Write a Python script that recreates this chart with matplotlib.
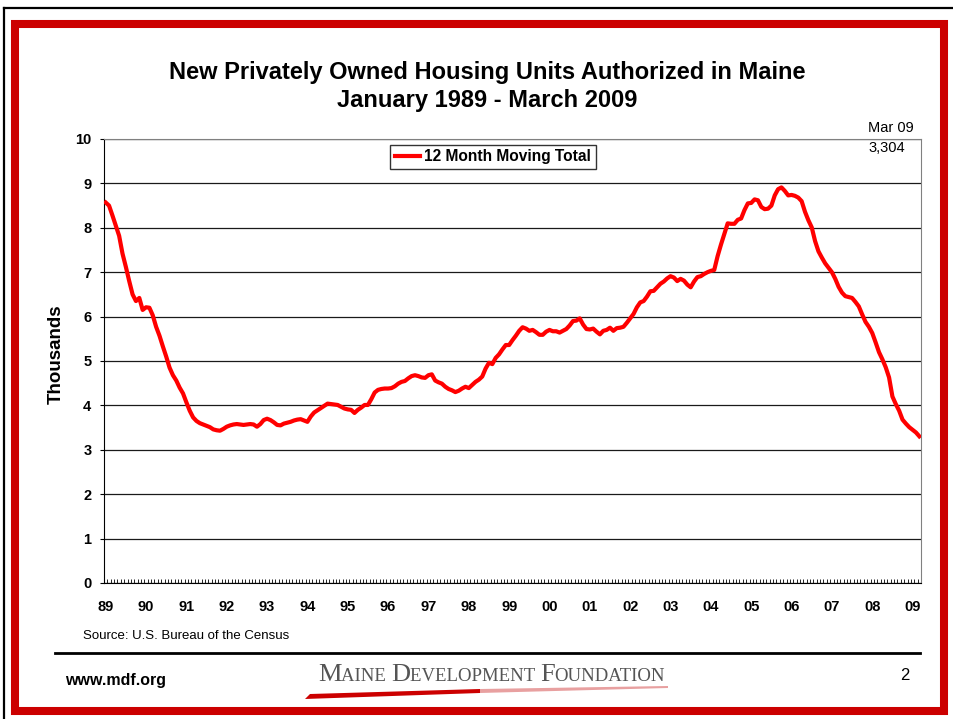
import matplotlib
matplotlib.use('Agg')
import matplotlib.pyplot as plt
from matplotlib.patches import Rectangle, Polygon
from matplotlib.lines import Line2D
import numpy as np

plt.rcParams['font.family'] = ['Liberation Sans', 'DejaVu Sans']

# 12 month moving total, thousands of units, Jan..Dec of each year
y1989 = [8.57, 8.50, 8.28, 8.05, 7.82, 7.42, 7.12, 6.80, 6.50, 6.35, 6.42, 6.15]
y1990 = [6.21, 6.20, 6.03, 5.77, 5.57, 5.33, 5.10, 4.85, 4.68, 4.56, 4.40, 4.27]
y1991 = [4.07, 3.88, 3.73, 3.65, 3.60, 3.57, 3.54, 3.51, 3.46, 3.44, 3.43, 3.47]
y1992 = [3.52, 3.55, 3.57, 3.58, 3.57, 3.56, 3.57, 3.58, 3.57, 3.52, 3.58, 3.67]
y1993 = [3.70, 3.67, 3.62, 3.56, 3.55, 3.59, 3.61, 3.63, 3.66, 3.68, 3.69, 3.66]
y1994 = [3.63, 3.75, 3.84, 3.89, 3.94, 3.99, 4.04, 4.03, 4.02, 4.01, 3.97, 3.93]
y1995 = [3.91, 3.90, 3.83, 3.90, 3.95, 4.01, 4.01, 4.14, 4.29, 4.35, 4.37, 4.38]
y1996 = [4.38, 4.39, 4.43, 4.49, 4.53, 4.55, 4.61, 4.66, 4.68, 4.66, 4.63, 4.62]
y1997 = [4.68, 4.70, 4.56, 4.52, 4.49, 4.42, 4.37, 4.34, 4.30, 4.33, 4.38, 4.42]
y1998 = [4.39, 4.46, 4.53, 4.58, 4.65, 4.83, 4.96, 4.93, 5.07, 5.15, 5.26, 5.36]
y1999 = [5.36, 5.47, 5.57, 5.68, 5.76, 5.73, 5.68, 5.70, 5.65, 5.59, 5.59, 5.66]
y2000 = [5.70, 5.67, 5.67, 5.64, 5.68, 5.72, 5.80, 5.90, 5.91, 5.96, 5.82, 5.72]
y2001 = [5.71, 5.73, 5.66, 5.60, 5.68, 5.70, 5.75, 5.68, 5.74, 5.75, 5.77, 5.86]
y2002 = [5.96, 6.06, 6.21, 6.32, 6.35, 6.45, 6.57, 6.58, 6.66, 6.74, 6.79, 6.86]
y2003 = [6.91, 6.88, 6.80, 6.85, 6.81, 6.72, 6.66, 6.79, 6.89, 6.91, 6.96, 7.00]
y2004 = [7.03, 7.05, 7.36, 7.62, 7.86, 8.10, 8.09, 8.09, 8.18, 8.21, 8.40, 8.55]
y2005 = [8.56, 8.64, 8.62, 8.47, 8.42, 8.43, 8.50, 8.73, 8.87, 8.91, 8.83, 8.73]
y2006 = [8.74, 8.72, 8.68, 8.60, 8.36, 8.17, 8.01, 7.70, 7.47, 7.33, 7.20, 7.10]
y2007 = [7.00, 6.85, 6.67, 6.54, 6.46, 6.44, 6.42, 6.33, 6.23, 6.05, 5.88, 5.77]
y2008 = [5.63, 5.42, 5.20, 5.04, 4.86, 4.63, 4.20, 4.03, 3.88, 3.68, 3.59, 3.51]
y2009 = [3.45, 3.39, 3.304]

year_labels = ['89', '90', '91', '92', '93', '94', '95', '96', '97', '98', '99',
               '00', '01', '02', '03', '04', '05', '06', '07', '08', '09']

values = (y1989 + y1990 + y1991 + y1992 + y1993 + y1994 + y1995 + y1996 + y1997
          + y1998 + y1999 + y2000 + y2001 + y2002 + y2003 + y2004 + y2005 + y2006
          + y2007 + y2008 + y2009)
months = np.arange(len(values))

W, H = 954, 719


def fx(x):
    return x / W


def fy(y):
    return 1 - y / H


fig = plt.figure(figsize=(W / 100, H / 100), dpi=100)

# page frame
fig.add_artist(Line2D([fx(4), 1], [fy(8), fy(8)], color='black', lw=1.6, transform=fig.transFigure))
fig.add_artist(Line2D([fx(4), fx(4)], [fy(8), 0], color='black', lw=1.6, transform=fig.transFigure))
fig.add_artist(Rectangle((fx(15), fy(711)), fx(944) - fx(15), fy(24) - fy(711),
                         transform=fig.transFigure, fill=False, edgecolor='#cc0000', linewidth=5.8))

ax = fig.add_axes([fx(104), fy(583), fx(921) - fx(104), fy(139) - fy(583)])
ax.plot(months, values, color='#ff0000', lw=3.0, solid_joinstyle='round',
        label='12 Month Moving Total', zorder=3)

ax.set_xlim(-0.5, len(values) - 0.5)
ax.set_ylim(0, 10)
ax.set_yticks(range(0, 11))
ax.set_yticklabels([str(i) for i in range(0, 11)], fontweight='bold', fontsize=10.5)
ax.yaxis.grid(True, color='#1a1a1a', lw=0.9)
ax.tick_params(axis='y', direction='out', length=3, width=0.8, pad=6)

ax.set_xticks(np.arange(0, len(values), 12))
ax.set_xticklabels(year_labels, fontweight='bold', fontsize=10.5)
ax.set_xticks(np.arange(-0.5, len(values), 1), minor=True)
ax.tick_params(axis='x', which='major', length=0, pad=12)
ax.tick_params(axis='x', which='minor', direction='in', length=3, width=0.6)

for s in ['top', 'right']:
    ax.spines[s].set_color('#808080')
for s in ['left', 'bottom']:
    ax.spines[s].set_color('black')

leg = ax.legend(loc='upper left', bbox_to_anchor=(0.35, 0.987), fancybox=False,
                edgecolor='black', prop={'weight': 'bold', 'size': 11.2},
                handlelength=1.6, handletextpad=0.3, borderpad=0.3, borderaxespad=0)
leg.get_frame().set_linewidth(1.0)

# texts
fig.text(fx(487), fy(72), 'New Privately Owned Housing Units Authorized in Maine',
         ha='center', va='center', fontsize=17, fontweight='bold')
fig.text(fx(487), fy(100), 'January 1989 - March 2009',
         ha='center', va='center', fontsize=17, fontweight='bold')
fig.text(fx(56), fy(354), 'Thousands', rotation=90, ha='center', va='center',
         fontsize=13.5, fontweight='bold')
fig.text(fx(868), fy(128), 'Mar 09', ha='left', va='center', fontsize=10.5)
fig.text(fx(868), fy(148), '3,304', ha='left', va='center', fontsize=10.5)
fig.text(fx(83), fy(636), 'Source: U.S. Bureau of the Census', ha='left', va='center', fontsize=9.5)

fig.add_artist(Line2D([fx(55), fx(920)], [fy(653), fy(653)], color='black', lw=2,
                      transform=fig.transFigure))
fig.text(fx(65), fy(680), 'www.mdf.org', ha='left', va='center', fontsize=11.5, fontweight='bold')
fig.text(fx(905), fy(675), '2', ha='center', va='center', fontsize=12)

# logo: small caps serif word mark with red swoosh
pieces = [('M', 19), ('AINE ', 13.5), ('D', 19), ('EVELOPMENT ', 13.5), ('F', 19), ('OUNDATION', 13.5)]
renderer = fig.canvas.get_renderer()
xpos = 318
for txt, size in pieces:
    t = fig.text(fx(xpos), fy(681), txt, ha='left', va='baseline', fontsize=size,
                 family=['Liberation Serif', 'DejaVu Serif'], color='#555555')
    xpos += t.get_window_extent(renderer).width

fig.add_artist(Polygon([(fx(305), fy(699)), (fx(480), fy(693)), (fx(480), fy(689)), (fx(310), fy(694))],
                       closed=True, transform=fig.transFigure, facecolor='#cc0000', edgecolor='none'))
fig.add_artist(Polygon([(fx(480), fy(693)), (fx(668), fy(688)), (fx(668), fy(686)), (fx(480), fy(689))],
                       closed=True, transform=fig.transFigure, facecolor='#e8a0a0', edgecolor='none'))

fig.savefig('out.png', dpi=100)
